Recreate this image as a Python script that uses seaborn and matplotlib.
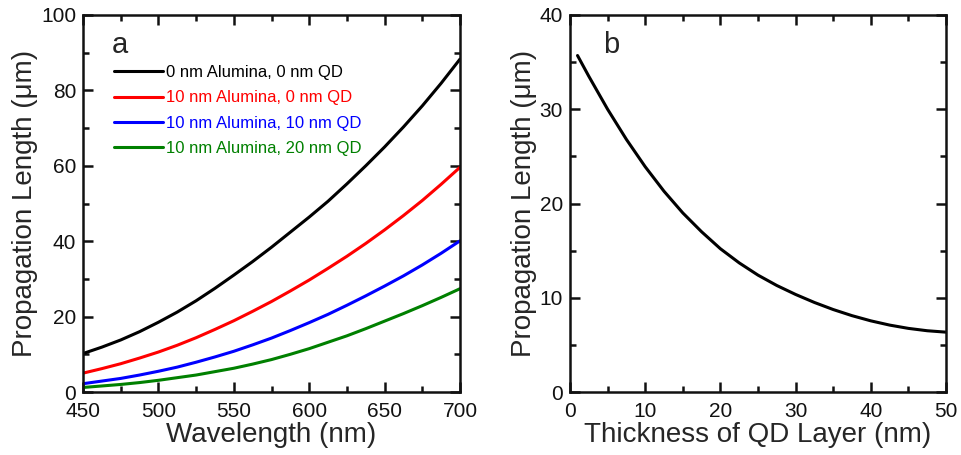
import matplotlib
matplotlib.use("Agg")
import matplotlib.pyplot as plt
from matplotlib.ticker import MultipleLocator
import pandas as pd
import seaborn as sns

# Panel a: propagation length (um) versus wavelength (nm) for four stacks
wavelength = [450, 462.5, 475, 487.5, 500, 512.5, 525, 537.5, 550, 562.5, 575,
              587.5, 600, 612.5, 625, 637.5, 650, 662.5, 675, 687.5, 700]
len_0al_0qd = [10.2, 11.9, 13.8, 16.0, 18.5, 21.2, 24.2, 27.5, 31.0, 34.6, 38.4,
               42.4, 46.4, 50.6, 55.2, 60.0, 65.0, 70.3, 75.9, 81.9, 88.3]
len_10al_0qd = [5.0, 6.2, 7.5, 9.0, 10.6, 12.4, 14.4, 16.6, 18.9, 21.4, 24.0,
                26.8, 29.7, 32.8, 36.0, 39.4, 43.0, 46.8, 50.8, 55.1, 59.6]
len_10al_10qd = [2.2, 2.9, 3.6, 4.5, 5.5, 6.6, 7.9, 9.3, 10.8, 12.5, 14.3,
                 16.3, 18.4, 20.6, 23.0, 25.5, 28.1, 30.8, 33.7, 36.8, 40.1]
len_10al_20qd = [1.2, 1.6, 2.0, 2.5, 3.1, 3.8, 4.5, 5.4, 6.3, 7.4, 8.6,
                 10.0, 11.5, 13.2, 14.9, 16.8, 18.8, 20.8, 22.9, 25.1, 27.4]
series_labels = [
    "0 nm Alumina, 0 nm QD",
    "10 nm Alumina, 0 nm QD",
    "10 nm Alumina, 10 nm QD",
    "10 nm Alumina, 20 nm QD",
]
series_colors = ["#000000", "#ff0000", "#0000ff", "#008000"]

# Panel b: propagation length (um) versus QD layer thickness (nm)
qd_thickness = [1, 2.5, 5, 7.5, 10, 12.5, 15, 17.5, 20, 22.5, 25, 27.5, 30,
                32.5, 35, 37.5, 40, 42.5, 45, 47.5, 50]
qd_length = [35.7, 33.5, 30.0, 26.8, 23.9, 21.3, 19.0, 17.0, 15.2, 13.7, 12.4,
             11.3, 10.35, 9.5, 8.75, 8.1, 7.55, 7.1, 6.75, 6.5, 6.35]

sns.set_style("ticks")
plt.rcParams["font.family"] = ["Liberation Sans", "DejaVu Sans"]
plt.rcParams["axes.linewidth"] = 1.8

frames = []
for lab, vals in zip(series_labels,
                     [len_0al_0qd, len_10al_0qd, len_10al_10qd, len_10al_20qd]):
    frames.append(pd.DataFrame({"wavelength": wavelength, "length": vals,
                                "config": lab}))
df_a = pd.concat(frames, ignore_index=True)
df_b = pd.DataFrame({"thickness": qd_thickness, "length": qd_length})

fig = plt.figure(figsize=(9.62, 4.55), dpi=100)
ax_a = fig.add_axes([83 / 962, 1 - 392 / 455, (460 - 83) / 962, (392 - 15) / 455])
ax_b = fig.add_axes([570 / 962, 1 - 392 / 455, (946 - 570) / 962, (392 - 15) / 455])

sns.lineplot(data=df_a, x="wavelength", y="length", hue="config",
             hue_order=series_labels, palette=series_colors,
             linewidth=2.2, ax=ax_a)
sns.lineplot(data=df_b, x="thickness", y="length", color="black",
             linewidth=2.2, ax=ax_b)


def style_axes(ax, xlim, ylim, xmaj, xmin, ymaj, ymin, xlabel):
    ax.set_xlim(*xlim)
    ax.set_ylim(*ylim)
    ax.xaxis.set_major_locator(MultipleLocator(xmaj))
    ax.xaxis.set_minor_locator(MultipleLocator(xmin))
    ax.yaxis.set_major_locator(MultipleLocator(ymaj))
    ax.yaxis.set_minor_locator(MultipleLocator(ymin))
    ax.tick_params(which="both", direction="in", top=True, right=True,
                   width=1.8, colors="#111111")
    ax.tick_params(which="major", length=7, labelsize=15)
    ax.tick_params(axis="x", which="major", pad=7)
    ax.tick_params(axis="y", which="major", pad=5)
    ax.tick_params(which="minor", length=4)
    ax.set_xlabel(xlabel, fontsize=20, labelpad=1)
    ax.set_ylabel("Propagation Length (\u03bcm)", fontsize=20, labelpad=2)
    for sp in ax.spines.values():
        sp.set_linewidth(1.8)
        sp.set_color("#111111")


style_axes(ax_a, (450, 700), (0, 100), 50, 25, 20, 10, "Wavelength (nm)")
style_axes(ax_b, (0, 50), (0, 40), 10, 5, 10, 5, "Thickness of QD Layer (nm)")

leg = ax_a.legend(frameon=False, loc="upper left", bbox_to_anchor=(0.065, 0.885),
                  fontsize=12, handlelength=2.9, handletextpad=0.2,
                  labelspacing=0.62, borderaxespad=0)
for txt, col in zip(leg.get_texts(), series_colors):
    txt.set_color(col)
for ln in leg.get_lines():
    ln.set_linewidth(2.2)

ax_a.text(0.075, 0.92, "a", transform=ax_a.transAxes, fontsize=21,
          va="center", ha="left")
ax_b.text(0.088, 0.92, "b", transform=ax_b.transAxes, fontsize=21,
          va="center", ha="left")

fig.savefig("out.png", dpi=100, facecolor="white")
